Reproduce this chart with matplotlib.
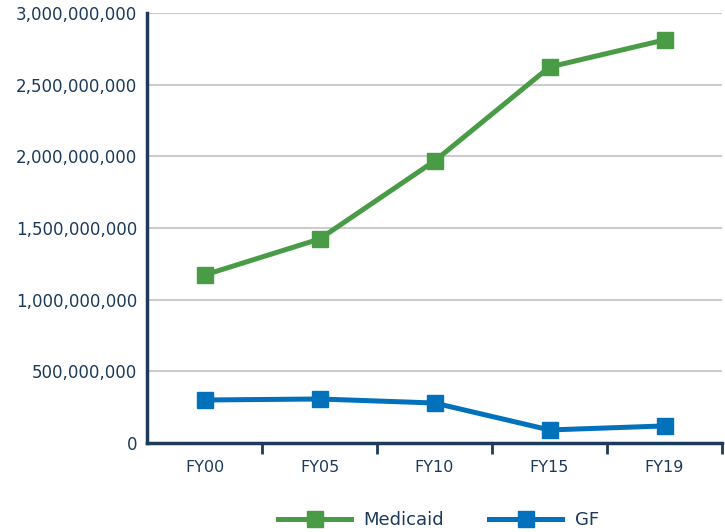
import matplotlib
matplotlib.use("Agg")
import matplotlib.pyplot as plt
from matplotlib.ticker import FuncFormatter, FixedLocator

categories = ["FY00", "FY05", "FY10", "FY15", "FY19"]
medicaid = [1172000000, 1423000000, 1967000000, 2623000000, 2812000000]
gf = [300000000, 307000000, 279000000, 91000000, 119000000]
y_ticks = [0, 500000000, 1000000000, 1500000000, 2000000000, 2500000000, 3000000000]

navy = "#1b3a5c"
green = "#4a9b46"
blue = "#0171bb"

plt.rcParams["font.family"] = ["DejaVu Sans"]

fig = plt.figure(figsize=(7.25, 5.32), dpi=100)
ax = fig.add_axes([0.2028, 0.1673, 0.7931, 0.8083])

x = list(range(len(categories)))
ax.plot(x, medicaid, color=green, lw=3.6, marker="s", markersize=11.5, label="Medicaid", zorder=3)
ax.plot(x, gf, color=blue, lw=3.6, marker="s", markersize=11.5, label="GF", zorder=3)

ax.set_xlim(-0.5, len(categories) - 0.5)
ax.set_ylim(0, 3000000000)
ax.set_yticks(y_ticks)
ax.yaxis.set_major_formatter(FuncFormatter(lambda v, p: f"{int(v):,}"))
ax.yaxis.grid(True, color="#cccccc", lw=1.5)
ax.set_axisbelow(True)

ax.set_xticks(x)
ax.set_xticklabels(categories)
ax.xaxis.set_minor_locator(FixedLocator([i + 0.5 for i in x]))
ax.tick_params(axis="x", which="major", length=0, pad=12, labelsize=11.5, labelcolor=navy)
ax.tick_params(axis="x", which="minor", length=8, width=2, color=navy, direction="out")
ax.tick_params(axis="y", length=0, pad=7, labelsize=12, labelcolor=navy)

for side in ("top", "right"):
    ax.spines[side].set_visible(False)
for side in ("left", "bottom"):
    ax.spines[side].set_color(navy)
    ax.spines[side].set_linewidth(2.5)

leg = fig.legend(loc="center", bbox_to_anchor=(0.605, 0.022), ncol=2, frameon=False,
                 fontsize=13, handlelength=4.0, columnspacing=2.5, handletextpad=0.72)
for t in leg.get_texts():
    t.set_color(navy)

fig.savefig("out.png", dpi=100)
